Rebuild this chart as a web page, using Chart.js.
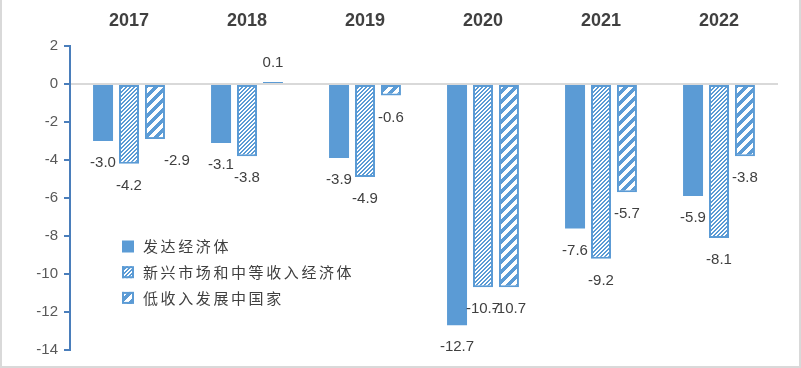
<!DOCTYPE html>
<html>
<head>
<meta charset="utf-8">
<script src="https://cdn.jsdelivr.net/npm/chart.js@4"></script>
<style>
  body { margin: 0; background: #fff; }
  #wrap { width: 801px; height: 368px; position: relative; }
</style>
</head>
<body>
<div id="wrap"><canvas id="chart"></canvas></div>
<script>
const years = ["2017", "2018", "2019", "2020", "2021", "2022"];
const seriesNames = ["发达经济体", "新兴市场和中等收入经济体", "低收入发展中国家"];
const advanced = [-3.0, -3.1, -3.9, -12.7, -7.6, -5.9];
const emerging = [-4.2, -3.8, -4.9, -10.7, -9.2, -8.1];
const lowIncome = [-2.9, 0.1, -0.6, -10.7, -5.7, -3.8];
const yTicks = [2, 0, -2, -4, -6, -8, -10, -12, -14];

const blueColor = "#5b9bd5";
const axisColor = "#4a7ebb";
const textColor = "#404040";

// one label sits beside its bar in the reference
const labelShiftX = [[0, 0, 0, 0, 0, 0], [0, 0, 0, 0, 0, 0], [22, 0, 0, 0, 0, 0]];

function makeStripes(size, width) {
  const c = document.createElement("canvas");
  c.width = size;
  c.height = size;
  const ctx = c.getContext("2d");
  ctx.fillStyle = "#fff";
  ctx.fillRect(0, 0, size, size);
  ctx.fillStyle = blueColor;
  for (let x = 0; x < size; x++) {
    for (let y = 0; y < size; y++) {
      if ((x + y) % size < width) ctx.fillRect(x, y, 1, 1);
    }
  }
  return ctx.createPattern(c, "repeat");
}

const densePattern = makeStripes(4, 2);
const widePattern = makeStripes(10, 5);

const framePlugin = {
  id: "frame",
  beforeDraw(chart) {
    const ctx = chart.ctx;
    ctx.save();
    ctx.fillStyle = "#fff";
    ctx.fillRect(0, 0, chart.width, chart.height);
    ctx.fillStyle = "#d9d9d9";
    ctx.fillRect(0, 0, 2, chart.height);
    ctx.fillRect(chart.width - 2, 0, 2, chart.height);
    ctx.fillRect(0, chart.height - 2, chart.width, 2);
    ctx.restore();
  }
};

const valueLabels = {
  id: "valueLabels",
  afterDatasetsDraw(chart) {
    const ctx = chart.ctx;
    ctx.save();
    ctx.font = "15px 'Liberation Sans', Arial, sans-serif";
    ctx.fillStyle = textColor;
    ctx.textAlign = "center";
    ctx.textBaseline = "middle";
    chart.data.datasets.forEach((ds, i) => {
      chart.getDatasetMeta(i).data.forEach((bar, j) => {
        const v = ds.data[j];
        const y = v < 0 ? bar.y + 22 : bar.y - 19;
        ctx.fillText(v.toFixed(1), bar.x + labelShiftX[i][j], y);
      });
    });
    ctx.restore();
  }
};

const innerLegend = {
  id: "innerLegend",
  afterDraw(chart) {
    const ctx = chart.ctx;
    ctx.save();
    ctx.font = "15px 'Noto Sans CJK SC', sans-serif";
    ctx.letterSpacing = "2.6px";
    ctx.textBaseline = "middle";
    chart.data.datasets.forEach((ds, i) => {
      const cy = 246.5 + i * 25.7;
      ctx.fillStyle = ds.backgroundColor;
      ctx.fillRect(122, cy - 6, 12, 12);
      if (i > 0) {
        ctx.strokeStyle = blueColor;
        ctx.lineWidth = 2;
        ctx.strokeRect(123, cy - 5, 10, 10);
      }
      ctx.fillStyle = textColor;
      ctx.fillText(ds.label, 143, cy);
    });
    ctx.restore();
  }
};

new Chart(document.getElementById("chart").getContext("2d"), {
  type: "bar",
  data: {
    labels: years,
    datasets: [{
      label: seriesNames[0],
      data: advanced,
      backgroundColor: blueColor,
      borderColor: blueColor,
      borderWidth: 0,
    }, {
      label: seriesNames[1],
      data: emerging,
      backgroundColor: densePattern,
      borderColor: blueColor,
      borderWidth: 2,
      borderSkipped: false,
    }, {
      label: seriesNames[2],
      data: lowIncome,
      backgroundColor: widePattern,
      borderColor: blueColor,
      borderWidth: 2,
      borderSkipped: false,
    }],
  },
  options: {
    animation: false,
    responsive: true,
    maintainAspectRatio: false,
    events: [],
    layout: {
      padding: { top: 0, right: 23, bottom: 18, left: 0 }
    },
    datasets: {
      bar: {
        categoryPercentage: 0.66,
        barPercentage: 0.77,
      }
    },
    plugins: {
      legend: { display: false },
      tooltip: { enabled: false },
    },
    scales: {
      x: {
        position: "top",
        grid: { display: false, drawTicks: false },
        border: { display: false },
        ticks: {
          color: textColor,
          padding: 14,
          font: { size: 18, weight: "bold", family: "'Liberation Sans', Arial, sans-serif" },
        },
        afterFit(scale) { scale.height = 46; },
      },
      y: {
        min: Math.min(...yTicks),
        max: Math.max(...yTicks),
        afterBuildTicks(scale) {
          scale.ticks = yTicks.map(v => ({ value: v }));
        },
        border: { display: true, color: axisColor, width: 2 },
        grid: {
          color: ctx => (ctx.tick && ctx.tick.value === 0 ? "#d9d9d9" : "transparent"),
          tickColor: axisColor,
          tickLength: 6,
          lineWidth: 2,
        },
        ticks: {
          color: "#595959",
          padding: 6,
          font: { size: 15, family: "'Liberation Sans', Arial, sans-serif" },
        },
        afterFit(scale) { scale.width = 70; },
      },
    },
  },
  plugins: [framePlugin, valueLabels, innerLegend],
});
</script>
</body>
</html>
